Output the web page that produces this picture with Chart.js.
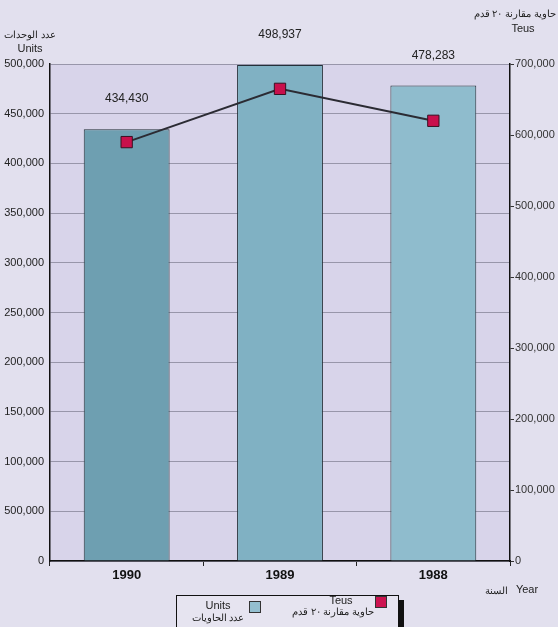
<!DOCTYPE html>
<html lang="ar">
  <head>
    <meta charset="UTF-8" />
    <title>Units / Teus</title>
    <style>
      html, body { margin: 0; padding: 0; background: #e2e0ee; }
      canvas { display: block; }
    </style>
  </head>
  <body>
    <canvas id="graphic" width="558" height="627"></canvas>
    <script src="https://cdn.jsdelivr.net/npm/chart.js"></script>
    <script>
      // valores
      const years = ["1990", "1989", "1988"];
      const units = [434430, 498937, 478283];
      const teus = [590000, 665000, 620000];
      const unitTicks = [0, 50000, 100000, 150000, 200000, 250000, 300000, 350000, 400000, 450000, 500000];
      const unitTickLabels = ["0", "500,000", "100,000", "150,000", "200,000", "250,000", "300,000", "350,000", "400,000", "450,000", "500,000"];
      const teuTicks = [0, 100000, 200000, 300000, 400000, 500000, 600000, 700000];
      const barColors = ["#6e9fb1", "#80b1c3", "#8fbccd"];

      const FONT = "'Liberation Sans', Arial, sans-serif";

      // fondo del area de la grafica
      const areaFondo = {
        id: "areaFondo",
        beforeDraw(chart) {
          const { ctx, chartArea: a } = chart;
          ctx.save();
          ctx.fillStyle = "#d8d4ea";
          ctx.fillRect(a.left, a.top, a.right - a.left, a.bottom - a.top);
          ctx.restore();
        },
      };

      // numeros encima de las barras, titulos y leyenda
      const textos = {
        id: "textos",
        afterDraw(chart) {
          const ctx = chart.ctx;
          ctx.save();
          ctx.fillStyle = "#222";
          ctx.textAlign = "center";
          ctx.textBaseline = "middle";
          ctx.font = "12px " + FONT;
          // dataset 1 = barras
          chart.getDatasetMeta(1).data.forEach((bar, i) => {
            ctx.fillText(units[i].toLocaleString("en-US"), bar.x, bar.y - 30);
          });

          // titulos de los ejes
          ctx.font = "10px " + FONT;
          ctx.fillText("عدد الوحدات", 30, 35);
          ctx.font = "11px " + FONT;
          ctx.fillText("Units", 30, 49);
          ctx.font = "10px " + FONT;
          ctx.textAlign = "right";
          ctx.fillText("حاوية مقارنة ٢٠ قدم", 556, 14);
          ctx.textAlign = "center";
          ctx.font = "11px " + FONT;
          ctx.fillText("Teus", 523, 29);
          ctx.fillText("Year", 527, 590);
          ctx.font = "10px " + FONT;
          ctx.fillText("السنة", 496, 591);

          // leyenda
          const lx = 176, ly = 595, lw = 222, lh = 40;
          ctx.fillStyle = "#111";
          ctx.fillRect(lx + 6, ly + 5, lw, lh);
          ctx.fillStyle = "#e6e4f0";
          ctx.fillRect(lx, ly, lw, lh);
          ctx.strokeStyle = "#111";
          ctx.lineWidth = 1;
          ctx.strokeRect(lx + 0.5, ly + 0.5, lw, lh);

          ctx.fillStyle = "#222";
          ctx.font = "11px " + FONT;
          ctx.fillText("Units", 218, 606);
          ctx.font = "10px " + FONT;
          ctx.fillText("عدد الحاويات", 218, 618);
          ctx.fillStyle = "#94bfd0";
          ctx.fillRect(249, 601, 11, 11);
          ctx.strokeStyle = "#333";
          ctx.strokeRect(249.5, 601.5, 11, 11);

          ctx.fillStyle = "#222";
          ctx.font = "11px " + FONT;
          ctx.fillText("Teus", 341, 601);
          ctx.font = "10px " + FONT;
          ctx.fillText("حاوية مقارنة ٢٠ قدم", 333, 612);
          ctx.fillStyle = "#cc1450";
          ctx.fillRect(375, 596, 11, 11);
          ctx.strokeRect(375.5, 596.5, 11, 11);
          ctx.restore();
        },
      };

      const lienzo = document.getElementById("graphic");
      new Chart(lienzo, {
        data: {
          labels: years,
          datasets: [
            {
              type: "line",
              label: "Teus",
              data: teus,
              yAxisID: "y1",
              borderColor: "#2b2b33",
              borderWidth: 2,
              pointStyle: "rect",
              pointRadius: 8,
              pointBackgroundColor: "#c8104c",
              pointBorderColor: "#3a1022",
              pointBorderWidth: 1,
              order: 0,
            },
            {
              type: "bar",
              label: "Units",
              data: units,
              yAxisID: "y",
              backgroundColor: barColors,
              borderColor: "#243038",
              borderWidth: 1,
              categoryPercentage: 1,
              barPercentage: 0.56,
              order: 1,
            },
          ],
        },
        options: {
          responsive: false,
          animation: false,
          layout: { padding: { top: 64, bottom: 0, left: 0, right: 0 } },
          plugins: { legend: { display: false }, tooltip: { enabled: false } },
          scales: {
            x: {
              offset: true,
              afterFit: (s) => { s.height = 66; },
              grid: { drawOnChartArea: false, tickLength: 5, color: "#222" },
              border: { color: "#111", width: 1.5 },
              ticks: { color: "#111", font: { family: FONT, size: 13, weight: "bold" }, padding: 2 },
            },
            y: {
              position: "left",
              min: 0,
              max: 500000,
              afterFit: (s) => { s.width = 50; },
              afterBuildTicks: (s) => { s.ticks = unitTicks.map((v) => ({ value: v })); },
              grid: { color: "#9896aa", lineWidth: 1, drawTicks: false },
              border: { color: "#111", width: 1.5 },
              ticks: {
                color: "#222",
                padding: 6,
                font: { family: FONT, size: 11 },
                callback: (v, i) => unitTickLabels[i],
              },
            },
            y1: {
              position: "right",
              min: 0,
              max: 700000,
              afterFit: (s) => { s.width = 48; },
              afterBuildTicks: (s) => { s.ticks = teuTicks.map((v) => ({ value: v })); },
              grid: { drawOnChartArea: false, tickLength: 4, color: "#333" },
              border: { color: "#111", width: 1.5 },
              ticks: {
                color: "#333",
                padding: 1,
                font: { family: FONT, size: 11 },
                callback: (v) => v.toLocaleString("en-US"),
              },
            },
          },
        },
        plugins: [areaFondo, textos],
      });
    </script>
  </body>
</html>
